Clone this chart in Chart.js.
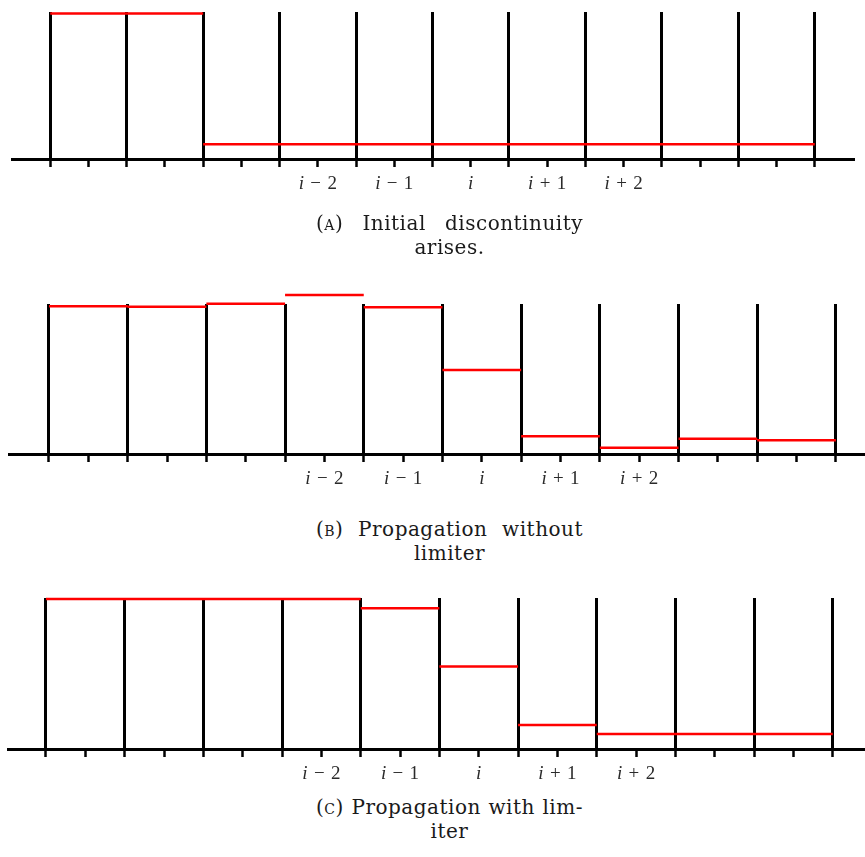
<!DOCTYPE html>
<html>
<head>
<meta charset="utf-8">
<script src="https://cdn.jsdelivr.net/npm/chart.js@4/dist/chart.umd.min.js"></script>
<style>
  body { margin: 0; background: #fff; }
  #page { position: relative; width: 865px; height: 857px; overflow: hidden; }
  .panel { position: absolute; left: 0; }
  .cap { position: absolute; left: 316px; width: 267px; font-family: 'DejaVu Serif', serif;
         font-size: 20px; letter-spacing: 0.5px; line-height: 24px; color: #1a1a1a; }
  .cap .l1 { text-align: justify; text-align-last: justify; white-space: nowrap; }
  .cap .l2 { text-align: center; }
  .sc { font-variant: small-caps; }
</style>
</head>
<body>
<div id="page">
  <canvas id="chartA" class="panel" width="865" height="215" style="top:0px"></canvas>
  <canvas id="chartB" class="panel" width="865" height="215" style="top:280px"></canvas>
  <canvas id="chartC" class="panel" width="865" height="215" style="top:575px"></canvas>

  <div class="cap" style="top:211px"><div class="l1">(<span class="sc">a</span>) Initial discontinuity</div><div class="l2">arises.</div></div>
  <div class="cap" style="top:517px"><div class="l1">(<span class="sc">b</span>) Propagation without</div><div class="l2">limiter</div></div>
  <div class="cap" style="top:795px"><div class="l1">(<span class="sc">c</span>) Propagation with lim-</div><div class="l2">iter</div></div>
</div>

<script>
// cell labels under the x axis (cells 0..9)
const cellLabels = ['', '', '', 'i − 2', 'i − 1', 'i', 'i + 1', 'i + 2', '', ''];

// cell averages, one value per cell
const initialValues   = [0.99, 0.99, 0.1, 0.1, 0.1, 0.1, 0.1, 0.1, 0.1, 0.1];
const noLimiterValues = [0.985, 0.982, 1.002, 1.06, 0.978, 0.56, 0.118, 0.042, 0.102, 0.091];
const limiterValues   = [0.993, 0.993, 0.993, 0.993, 0.932, 0.547, 0.159, 0.1, 0.1, 0.1];

// tick positions: cell boundaries and cell centres
const tickValues = [];
for (let t = 0; t <= 10; t += 0.5) tickValues.push(t);

// draws "i" in italic and the rest upright, like the math labels
const cellLabelPlugin = {
    id: 'cellLabels',
    afterDraw(chart) {
        const ctx = chart.ctx;
        const xs = chart.scales.x;
        const y = xs.top + 30;
        ctx.save();
        ctx.fillStyle = '#2a2a2a';
        ctx.textBaseline = 'alphabetic';
        ctx.textAlign = 'left';
        cellLabels.forEach((lab, i) => {
            if (!lab) return;
            const first = lab[0];
            const rest = lab.slice(1).replace(/ /g, '\u200A ');
            ctx.font = 'italic 19px "Liberation Serif"';
            const w1 = ctx.measureText(first).width;
            ctx.font = '19px "Liberation Serif"';
            const w2 = ctx.measureText(rest).width;
            const cx = xs.getPixelForValue(i + 0.5);
            let x = cx - (w1 + w2) / 2;
            ctx.font = 'italic 19px "Liberation Serif"';
            ctx.fillText(first, x, y);
            ctx.font = '19px "Liberation Serif"';
            ctx.fillText(rest, x + w1, y);
        });
        ctx.restore();
    }
};

const segmentPoints = (values) => {
    const pts = [];
    values.forEach((v, i) => {
        pts.push({x: i, y: v}, {x: i + 1, y: v}, {x: i + 1, y: null});
    });
    return pts;
};

const renderPanel = (id, values, xMin, xMax, pad) => {
    var ctx = document.getElementById(id).getContext('2d');
    new Chart(ctx, {
        type: 'line',
        data: {
            datasets: [{
                data: segmentPoints(values),
                borderColor: '#ff0000',
                borderWidth: 2.5,
                pointRadius: 0,
                spanGaps: false,
                clip: false,
            }],
        },
        options: {
            responsive: false,
            animation: false,
            layout: {padding: pad},
            plugins: {legend: {display: false}, tooltip: {enabled: false}},
            scales: {
                x: {
                    type: 'linear',
                    min: xMin,
                    max: xMax,
                    afterBuildTicks: (s) => { s.ticks = tickValues.map(v => ({value: v})); },
                    afterFit: (s) => { s.height = 10; },
                    ticks: {display: false},
                    grid: {
                        color: (c) => Number.isInteger(c.tick.value) ? '#000' : 'rgba(0,0,0,0)',
                        lineWidth: 3,
                        tickColor: '#000',
                        tickLength: 8,
                        tickWidth: 2.5,
                    },
                    border: {display: true, color: '#000', width: 3},
                },
                y: {display: false, min: 0, max: 1},
            },
        },
        plugins: [cellLabelPlugin],
    });
};

window.addEventListener('load', () => {
    renderPanel('chartA', initialValues, -0.5, 10.5, {left: 12, right: 12, top: 12, bottom: 46});
    renderPanel('chartB', noLimiterValues, -0.5, 10.37, {left: 9.65, right: 0, top: 24, bottom: 31});
    renderPanel('chartC', limiterValues, -0.483, 10.41, {left: 8, right: 0, top: 23, bottom: 31});
});
</script>
</body>
</html>
